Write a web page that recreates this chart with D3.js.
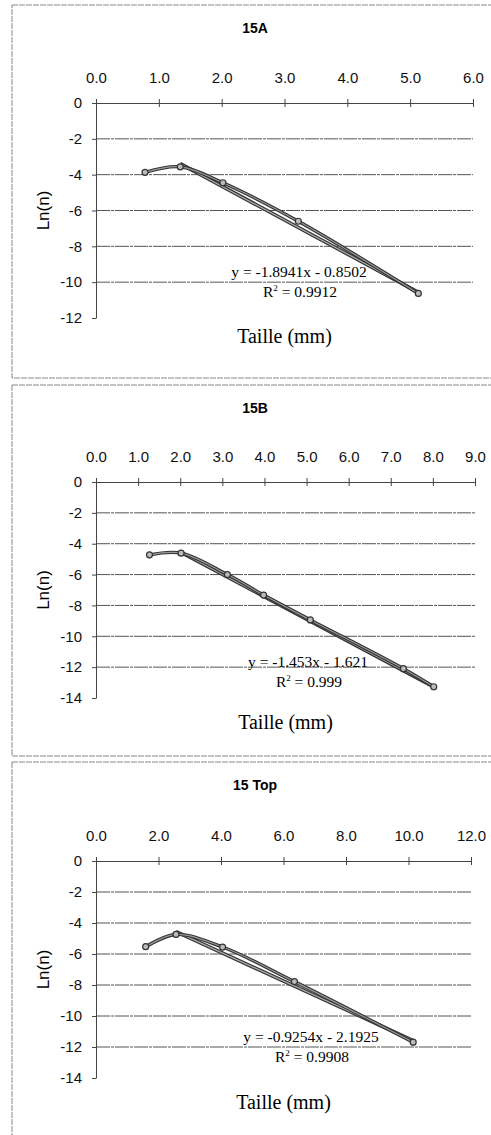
<!DOCTYPE html>
<html>
<head>
<meta charset="utf-8">
<script src="https://cdn.jsdelivr.net/npm/d3@7"></script>
<style>
  body { margin: 0; background: #fff; }
  .axis text { font-family: "Liberation Sans", Arial, sans-serif; font-size: 15px; fill: #111; }
  .axis path, .axis line { stroke: #444; stroke-width: 1; }
</style>
</head>
<body>
<div id="graph"></div>
<script>
// chart values
var titles = ["15A", "15B", "15 Top"];
var xMax = [6, 9, 12];
var xStep = [1, 1, 2];
var yMin = [-12, -14, -14];

var sizeA = [0.78, 1.34, 2.02, 3.22, 5.13];
var lnA = [-3.87, -3.56, -4.45, -6.6, -10.63];

var sizeB = [1.27, 2.02, 3.12, 3.98, 5.09, 7.3, 8.02];
var lnB = [-4.72, -4.61, -6.0, -7.33, -8.94, -12.1, -13.27];

var sizeTop = [1.59, 2.56, 4.05, 6.35, 10.15];
var lnTop = [-5.53, -4.74, -5.55, -7.78, -11.69];

var slopes = [-1.8941, -1.453, -0.9254];
var intercepts = [-0.8502, -1.621, -2.1925];
var equations = ["y = -1.8941x - 0.8502", "y = -1.453x - 1.621", "y = -0.9254x - 2.1925"];
var r2 = ["0.9912", "0.999", "0.9908"];

var allX = [sizeA, sizeB, sizeTop];
var allY = [lnA, lnB, lnTop];

var w = 491;
var h = 1135;

// page layout of each panel
var layout = [
    { top: 5, bottom: 378, axisY: 103, plotBottom: 318, left: 96, right: 473, eqX: 299, eqY: 277, xlab: 343 },
    { top: 385, bottom: 756, axisY: 482, plotBottom: 698, left: 96, right: 475, eqX: 308, eqY: 667, xlab: 729 },
    { top: 762, bottom: 1140, axisY: 861, plotBottom: 1078, left: 96, right: 471, eqX: 311, eqY: 1042, xlab: 1109 }
];

var svg = d3.select("#graph")
    .append("svg")
    .attr("width", w)
    .attr("height", h);

var fmtX = d3.format(".1f");

titles.forEach(function (title, i) {
    var L = layout[i];
    var g = svg.append("g");

    // scanned frame around the panel
    g.append("rect")
        .attr("x", 12)
        .attr("y", L.top)
        .attr("width", 500)
        .attr("height", L.bottom - L.top)
        .attr("fill", "none")
        .attr("stroke", "#888")
        .attr("stroke-width", 1)
        .attr("stroke-dasharray", "6,1");

    var xScale = d3.scaleLinear().domain([0, xMax[i]]).range([L.left, L.right]);
    var yScale = d3.scaleLinear().domain([yMin[i], 0]).range([L.plotBottom, L.axisY]);

    var yTicks = d3.range(0, yMin[i] - 1, -2);
    var xTicks = d3.range(0, xMax[i] + 0.001, xStep[i]);

    // gridlines
    g.selectAll(".grid")
        .data(yTicks.filter(function (d) { return d !== 0 && d !== yMin[i]; }))
        .enter()
        .append("line")
        .attr("x1", L.left)
        .attr("x2", L.right)
        .attr("y1", function (d) { return yScale(d); })
        .attr("y2", function (d) { return yScale(d); })
        .attr("stroke", "#555")
        .attr("stroke-width", 1)
        .attr("stroke-dasharray", "14,1,3,1");

    // Y axis
    g.append("g")
        .attr("class", "axis")
        .attr("transform", "translate(" + L.left + ",0)")
        .call(d3.axisLeft(yScale).tickValues(yTicks).tickSize(4).tickSizeOuter(0).tickPadding(10)
            .tickFormat(function (d) { return String(d); }));

    // X axis on top, ticks crossing the line
    var xg = g.append("g")
        .attr("class", "axis")
        .attr("transform", "translate(0," + L.axisY + ")")
        .call(d3.axisTop(xScale).tickValues(xTicks).tickSize(4).tickSizeOuter(0).tickPadding(16)
            .tickFormat(fmtX));
    xg.selectAll(".tick").append("line").attr("y2", 4).attr("stroke", "#444");

    // title
    g.append("text")
        .attr("x", 255)
        .attr("y", L.top + 28)
        .attr("text-anchor", "middle")
        .style("font-family", "Liberation Sans, Arial, sans-serif")
        .style("font-weight", "bold")
        .style("font-size", "14px")
        .text(title);

    // axis titles
    g.append("text")
        .attr("x", (L.left + L.right) / 2)
        .attr("y", L.xlab)
        .attr("text-anchor", "middle")
        .style("font-family", "Liberation Serif, Times New Roman, serif")
        .style("font-size", "20px")
        .text("Taille (mm)");

    var midY = (L.axisY + L.plotBottom) / 2;
    g.append("text")
        .attr("transform", "translate(49," + midY + ") rotate(-90)")
        .attr("text-anchor", "middle")
        .style("font-family", "Liberation Sans, Arial, sans-serif")
        .style("font-size", "17px")
        .text("Ln(n)");

    var pts = allX[i].map(function (x, k) { return { x: x, y: allY[i][k] }; });
    var line = d3.line()
        .x(function (d) { return xScale(d.x); })
        .y(function (d) { return yScale(d.y); })
        .curve(d3.curveCatmullRom.alpha(0.5));

    // trend line from second point to last point
    var x0 = allX[i][1];
    var x1 = allX[i][allX[i].length - 1];
    var trend = [x0, x1].map(function (x) { return { x: x, y: slopes[i] * x + intercepts[i] }; });
    var straight = d3.line()
        .x(function (d) { return xScale(d.x); })
        .y(function (d) { return yScale(d.y); });

    [[3.6, "#333"], [1.3, "#aaa"]].forEach(function (s) {
        g.append("path").datum(trend)
            .attr("d", straight)
            .attr("fill", "none")
            .attr("stroke", s[1])
            .attr("stroke-width", s[0]);
    });
    [[3.4, "#333"], [1.2, "#999"]].forEach(function (s) {
        g.append("path").datum(pts)
            .attr("d", line)
            .attr("fill", "none")
            .attr("stroke", s[1])
            .attr("stroke-width", s[0]);
    });

    g.selectAll(".pt")
        .data(pts)
        .enter()
        .append("circle")
        .attr("cx", function (d) { return xScale(d.x); })
        .attr("cy", function (d) { return yScale(d.y); })
        .attr("r", 3)
        .attr("fill", "#bbb")
        .attr("stroke", "#333")
        .attr("stroke-width", 1.2);

    // equation and R²
    g.append("text")
        .attr("x", L.eqX)
        .attr("y", L.eqY)
        .attr("text-anchor", "middle")
        .style("font-family", "Liberation Serif, Times New Roman, serif")
        .style("font-size", "15.5px")
        .text(equations[i]);

    var rt = g.append("text")
        .attr("x", L.eqX + 1)
        .attr("y", L.eqY + 20)
        .attr("text-anchor", "middle")
        .style("font-family", "Liberation Serif, Times New Roman, serif")
        .style("font-size", "15.5px");
    rt.append("tspan").text("R");
    rt.append("tspan").attr("dy", -6).style("font-size", "9px").text("2");
    rt.append("tspan").attr("dy", 6).text(" = " + r2[i]);
});
</script>
</body>
</html>
